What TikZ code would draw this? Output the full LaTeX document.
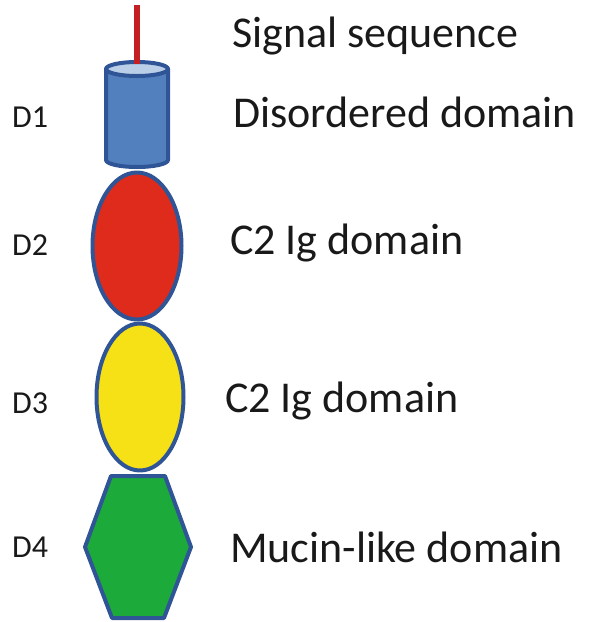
\documentclass[tikz,border=0pt]{standalone}
\usepackage{fontspec}
\setmainfont{Carlito}
\usetikzlibrary{shapes.geometric}
\definecolor{edgeblue}{RGB}{47,85,151}
\definecolor{bodyblue}{RGB}{82,128,190}
\definecolor{topblue}{RGB}{186,206,232}
\definecolor{domred}{RGB}{223,43,27}
\definecolor{domyellow}{RGB}{246,224,22}
\definecolor{domgreen}{RGB}{28,170,58}
\definecolor{sigred}{RGB}{196,32,36}
\begin{document}
\begin{tikzpicture}[x=1pt, y=-1pt,
  dom/.style={draw=edgeblue, line width=4pt, line join=round},
  lab/.style={anchor=base west, inner sep=0pt, text=black!90, font=\fontsize{44}{48}\selectfont},
  dlab/.style={anchor=base west, inner sep=0pt, text=black!90, font=\fontsize{32}{36}\selectfont}]
\useasboundingbox (0,0) rectangle (589,622);

% domains
\coordinate (S) at (137,5);
\coordinate (T) at (137,64);
\draw[dom, fill=bodyblue] (106,69) -- (106,160) arc[start angle=180, end angle=0, x radius=31, y radius=7] -- (168,69) -- cycle;
\draw[dom, fill=topblue] (137,69) ellipse [x radius=31, y radius=7];
\node[dom, ellipse, fill=domred, minimum width=89, minimum height=147, inner sep=0pt] (B) at (137,246) {};
\node[dom, ellipse, fill=domyellow, minimum width=87, minimum height=147, inner sep=0pt] (C) at (140,397) {};
\draw[dom, fill=domgreen] (111,476) -- (165,476) -- (191,547) -- (164,618) -- (112,618) -- (85,547) -- cycle;

\draw[sigred, line width=6pt] (S) to (T);

% labels
\node[lab] (L0) at (232,47) {Signal sequence};
\node[lab] (L1) at (233,127) {Disordered domain};
\node[lab] (L2) at (230,254) {C2 Ig domain};
\node[lab] (L3) at (225,412) {C2 Ig domain};
\node[lab] (L4) at (230,562) {Mucin-like domain};

\node[dlab] (D1) at (12,127) {D1};
\node[dlab] (D2) at (12,255) {D2};
\node[dlab] (D3) at (12,413) {D3};
\node[dlab] (D4) at (12,557) {D4};
\end{tikzpicture}
\end{document}
